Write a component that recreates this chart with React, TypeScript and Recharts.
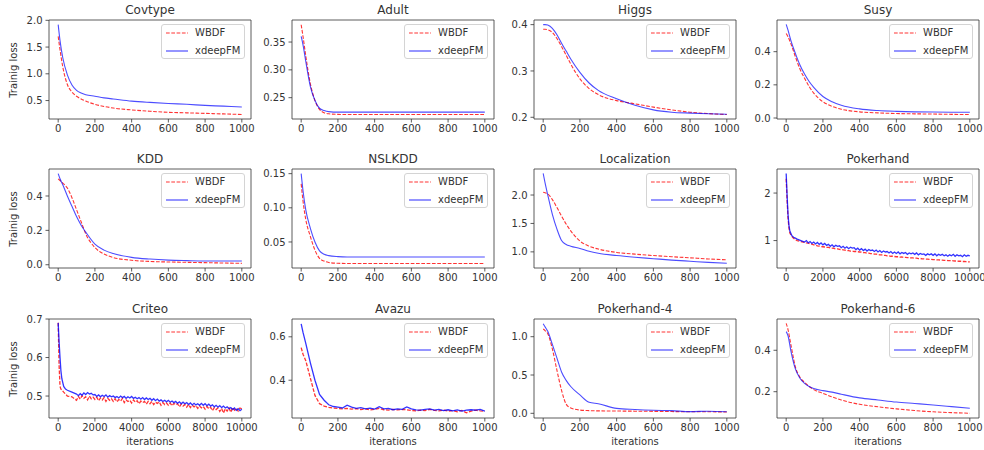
import React from "react";
import { LineChart, Line, XAxis, YAxis, ReferenceArea, Legend } from "recharts";

const FONT = "'DejaVu Sans', Verdana, sans-serif";
const TEXT = "#333";

// iteration grid shared by the smooth 0..1000 panels
const iterX = [0, 10, 25, 50, 75, 100, 125, 150, 200, 250, 300, 400, 500, 600, 700, 800, 900, 1000];
const ticks1k = [0, 200, 400, 600, 800, 1000];
const ticks10k = [0, 2000, 4000, 6000, 8000, 10000];

// Covtype
const covWBDF = [1.7, 1.45, 1.13, 0.8, 0.66, 0.58, 0.53, 0.49, 0.43, 0.39, 0.36, 0.325, 0.3, 0.28, 0.27, 0.26, 0.25, 0.24];
const covXdeep = [1.92, 1.62, 1.3, 0.98, 0.79, 0.69, 0.64, 0.61, 0.58, 0.55, 0.53, 0.49, 0.465, 0.445, 0.43, 0.41, 0.395, 0.38];

// Adult
const adultWBDF = [0.381, 0.36, 0.325, 0.275, 0.245, 0.229, 0.223, 0.221, 0.22, 0.2198, 0.2198, 0.2198, 0.2198, 0.2198, 0.2198, 0.2198, 0.2198, 0.2198];
const adultXdeep = [0.36, 0.345, 0.315, 0.27, 0.245, 0.231, 0.227, 0.225, 0.224, 0.224, 0.224, 0.224, 0.224, 0.224, 0.224, 0.224, 0.224, 0.224];

// Higgs
const higgsWBDF = [0.39, 0.39, 0.389, 0.383, 0.37, 0.353, 0.334, 0.315, 0.283, 0.262, 0.249, 0.236, 0.229, 0.222, 0.216, 0.211, 0.208, 0.206];
const higgsXdeep = [0.4, 0.4, 0.399, 0.392, 0.378, 0.36, 0.343, 0.326, 0.297, 0.274, 0.258, 0.24, 0.226, 0.216, 0.211, 0.209, 0.2075, 0.2065];

// Susy
const susyWBDF = [0.51, 0.49, 0.45, 0.37, 0.295, 0.24, 0.19, 0.15, 0.098, 0.07, 0.053, 0.037, 0.031, 0.027, 0.025, 0.024, 0.022, 0.021];
const susyXdeep = [0.565, 0.53, 0.47, 0.39, 0.32, 0.265, 0.22, 0.185, 0.13, 0.098, 0.077, 0.055, 0.045, 0.04, 0.037, 0.036, 0.035, 0.035];

// KDD
const kddWBDF = [0.5, 0.49, 0.475, 0.446, 0.39, 0.32, 0.25, 0.18, 0.1, 0.062, 0.042, 0.026, 0.019, 0.016, 0.014, 0.012, 0.01, 0.008];
const kddXdeep = [0.53, 0.5, 0.465, 0.4, 0.34, 0.28, 0.23, 0.19, 0.12, 0.085, 0.065, 0.043, 0.033, 0.027, 0.024, 0.022, 0.022, 0.022];

// NSLKDD
const nslWBDF = [0.135, 0.11, 0.083, 0.058, 0.038, 0.026, 0.022, 0.02, 0.0188, 0.0185, 0.0185, 0.0185, 0.0185, 0.0185, 0.0185, 0.0185, 0.0185, 0.0185];
const nslXdeep = [0.15, 0.125, 0.097, 0.07, 0.05, 0.037, 0.032, 0.03, 0.0285, 0.028, 0.028, 0.028, 0.028, 0.028, 0.028, 0.028, 0.028, 0.028];

// Localization
const locWBDF = [2.05, 2.04, 2.02, 1.92, 1.78, 1.63, 1.49, 1.37, 1.19, 1.1, 1.05, 0.99, 0.96, 0.935, 0.915, 0.895, 0.875, 0.86];
const locXdeep = [2.38, 2.22, 2.0, 1.66, 1.4, 1.2, 1.13, 1.1, 1.06, 1.01, 0.975, 0.935, 0.905, 0.88, 0.855, 0.835, 0.815, 0.8];

// Pokerhand
const pokX = [
  0, 50, 100, 150, 200, 300, 400, 500, 600, 800,
  1000, 1100, 1200, 1300, 1400, 1500, 1600, 1700, 1800, 1900,
  2000, 2100, 2200, 2300, 2400, 2500, 2600, 2700, 2800, 2900,
  3000, 3100, 3200, 3300, 3400, 3500, 3600, 3700, 3800, 3900,
  4000, 4100, 4200, 4300, 4400, 4500, 4600, 4700, 4800, 4900,
  5000, 5100, 5200, 5300, 5400, 5500, 5600, 5700, 5800, 5900,
  6000, 6100, 6200, 6300, 6400, 6500, 6600, 6700, 6800, 6900,
  7000, 7100, 7200, 7300, 7400, 7500, 7600, 7700, 7800, 7900,
  8000, 8100, 8200, 8300, 8400, 8500, 8600, 8700, 8800, 8900,
  9000, 9100, 9200, 9300, 9400, 9500, 9600, 9700, 9800, 9900,
  10000,
];
const pokWBDF = [
  2.3, 1.85, 1.48, 1.27, 1.16, 1.09, 1.05, 1.02, 1.0, 0.98,
  0.96, 0.95, 0.945, 0.93, 0.925, 0.91, 0.905, 0.89, 0.885, 0.875,
  0.87, 0.865, 0.855, 0.855, 0.845, 0.84, 0.835, 0.825, 0.825, 0.815,
  0.81, 0.805, 0.8, 0.79, 0.79, 0.78, 0.78, 0.77, 0.77, 0.765,
  0.76, 0.755, 0.745, 0.745, 0.735, 0.735, 0.725, 0.725, 0.715, 0.715,
  0.71, 0.7, 0.7, 0.69, 0.69, 0.68, 0.68, 0.67, 0.67, 0.665,
  0.66, 0.66, 0.65, 0.655, 0.645, 0.645, 0.64, 0.64, 0.635, 0.635,
  0.63, 0.63, 0.62, 0.625, 0.615, 0.615, 0.61, 0.61, 0.605, 0.605,
  0.6, 0.6, 0.595, 0.595, 0.59, 0.59, 0.585, 0.585, 0.58, 0.58,
  0.58, 0.575, 0.57, 0.57, 0.565, 0.565, 0.56, 0.56, 0.555, 0.55,
  0.55,
];
const pokXdeep = [
  2.41, 1.95, 1.55, 1.32, 1.2, 1.11, 1.07, 1.05, 1.03, 1.0,
  0.97, 1.0, 0.95, 0.98, 0.94, 0.97, 0.93, 0.96, 0.92, 0.95,
  0.91, 0.94, 0.9, 0.92, 0.88, 0.91, 0.87, 0.9, 0.88, 0.89,
  0.85, 0.88, 0.84, 0.87, 0.83, 0.86, 0.84, 0.85, 0.81, 0.84,
  0.8, 0.83, 0.79, 0.82, 0.78, 0.81, 0.79, 0.8, 0.77, 0.8,
  0.76, 0.79, 0.75, 0.78, 0.76, 0.77, 0.74, 0.77, 0.73, 0.76,
  0.73, 0.76, 0.72, 0.75, 0.73, 0.75, 0.71, 0.74, 0.72, 0.74,
  0.71, 0.74, 0.7, 0.73, 0.71, 0.72, 0.69, 0.72, 0.7, 0.72,
  0.69, 0.72, 0.68, 0.71, 0.69, 0.71, 0.68, 0.7, 0.67, 0.7,
  0.68, 0.71, 0.67, 0.7, 0.68, 0.69, 0.66, 0.7, 0.67, 0.69,
  0.68,
];

// Criteo
const critX = [
  0, 50, 100, 150, 200, 300, 400, 500, 750,
  1000, 1100, 1200, 1300, 1400, 1500, 1600, 1700, 1800, 1900,
  2000, 2100, 2200, 2300, 2400, 2500, 2600, 2700, 2800, 2900,
  3000, 3100, 3200, 3300, 3400, 3500, 3600, 3700, 3800, 3900,
  4000, 4100, 4200, 4300, 4400, 4500, 4600, 4700, 4800, 4900,
  5000, 5100, 5200, 5300, 5400, 5500, 5600, 5700, 5800, 5900,
  6000, 6100, 6200, 6300, 6400, 6500, 6600, 6700, 6800, 6900,
  7000, 7100, 7200, 7300, 7400, 7500, 7600, 7700, 7800, 7900,
  8000, 8100, 8200, 8300, 8400, 8500, 8600, 8700, 8800, 8900,
  9000, 9100, 9200, 9300, 9400, 9500, 9600, 9700, 9800, 9900,
  10000,
];
const critWBDF = [
  0.69, 0.58, 0.525, 0.518, 0.516, 0.51, 0.505, 0.5, 0.498,
  0.489, 0.499, 0.492, 0.501, 0.494, 0.498, 0.49, 0.5, 0.493, 0.497,
  0.491, 0.497, 0.488, 0.495, 0.49, 0.496, 0.486, 0.494, 0.489, 0.493,
  0.486, 0.493, 0.485, 0.491, 0.487, 0.494, 0.483, 0.49, 0.486, 0.489,
  0.482, 0.49, 0.484, 0.488, 0.48, 0.487, 0.483, 0.486, 0.479, 0.486,
  0.48, 0.486, 0.478, 0.484, 0.481, 0.485, 0.476, 0.483, 0.478, 0.482,
  0.476, 0.482, 0.475, 0.481, 0.477, 0.48, 0.472, 0.479, 0.474, 0.478,
  0.471, 0.478, 0.47, 0.476, 0.472, 0.475, 0.468, 0.474, 0.469, 0.473,
  0.466, 0.473, 0.467, 0.471, 0.462, 0.47, 0.465, 0.469, 0.46, 0.468,
  0.456, 0.467, 0.461, 0.469, 0.458, 0.47, 0.463, 0.468, 0.461, 0.469,
  0.467,
];
const critXdeep = [
  0.69, 0.64, 0.6, 0.565, 0.545, 0.525, 0.518, 0.515, 0.51,
  0.505, 0.501, 0.506, 0.502, 0.508, 0.504, 0.509, 0.505, 0.507, 0.503,
  0.504, 0.499, 0.503, 0.498, 0.502, 0.499, 0.503, 0.497, 0.501, 0.498,
  0.5, 0.496, 0.499, 0.495, 0.5, 0.496, 0.499, 0.494, 0.498, 0.495,
  0.499, 0.494, 0.497, 0.493, 0.496, 0.492, 0.496, 0.491, 0.495, 0.491,
  0.494, 0.489, 0.493, 0.488, 0.492, 0.487, 0.49, 0.486, 0.489, 0.485,
  0.489, 0.484, 0.487, 0.483, 0.486, 0.481, 0.485, 0.48, 0.484, 0.48,
  0.483, 0.478, 0.482, 0.477, 0.481, 0.477, 0.48, 0.476, 0.481, 0.476,
  0.48, 0.475, 0.479, 0.474, 0.477, 0.472, 0.476, 0.471, 0.475, 0.47,
  0.474, 0.469, 0.472, 0.467, 0.47, 0.465, 0.469, 0.463, 0.467, 0.462,
  0.466,
];

// Avazu
const avaX = [
  0, 10, 25, 50, 75, 100, 125, 150, 175, 200,
  225, 250, 275, 300, 325, 350, 375, 400, 425, 450, 475, 500,
  525, 550, 575, 600, 625, 650, 675, 700, 725, 750,
  775, 800, 825, 850, 875, 900, 925, 950, 975, 1000,
];
const avaWBDF = [
  0.55, 0.52, 0.49, 0.41, 0.33, 0.292, 0.281, 0.275, 0.272, 0.27,
  0.268, 0.27, 0.267, 0.269, 0.265, 0.268, 0.263, 0.266, 0.27, 0.264, 0.262, 0.266,
  0.263, 0.265, 0.264, 0.261, 0.259, 0.262, 0.26, 0.266, 0.261, 0.259,
  0.262, 0.258, 0.26, 0.255, 0.261, 0.25, 0.258, 0.262, 0.259, 0.257,
];
const avaXdeep = [
  0.66, 0.62, 0.57, 0.48, 0.4, 0.335, 0.308, 0.287, 0.279, 0.276,
  0.272, 0.285, 0.276, 0.27, 0.274, 0.268, 0.271, 0.267, 0.278, 0.268, 0.27, 0.264,
  0.268, 0.266, 0.277, 0.268, 0.263, 0.262, 0.266, 0.268, 0.262, 0.266,
  0.26, 0.264, 0.259, 0.263, 0.258, 0.262, 0.264, 0.262, 0.266, 0.258,
];

// Pokerhand-4
const p4WBDF = [1.1, 1.08, 1.04, 0.84, 0.56, 0.3, 0.12, 0.07, 0.043, 0.035, 0.032, 0.03, 0.028, 0.026, 0.023, 0.02, 0.02, 0.018];
const p4Xdeep = [1.17, 1.13, 1.07, 0.9, 0.72, 0.54, 0.43, 0.35, 0.24, 0.145, 0.125, 0.065, 0.05, 0.04, 0.035, 0.022, 0.028, 0.02];

// Pokerhand-6
const p6WBDF = [0.53, 0.5, 0.43, 0.32, 0.27, 0.245, 0.225, 0.21, 0.192, 0.175, 0.16, 0.139, 0.127, 0.117, 0.109, 0.103, 0.099, 0.096];
const p6Xdeep = [0.49, 0.47, 0.4, 0.31, 0.265, 0.24, 0.225, 0.215, 0.205, 0.198, 0.188, 0.17, 0.16, 0.15, 0.143, 0.136, 0.128, 0.12];

type PanelDef = {
  title: string;
  x: number[];
  wbdf: number[];
  xdeep: number[];
  xDomain: [number, number];
  xTicks: number[];
  yDomain: [number, number];
  yTicks: number[];
  digits: number;
  curve: "monotone" | "linear";
};

const D1K: [number, number] = [-50, 1050];
const D10K: [number, number] = [-500, 10500];

const panels: PanelDef[] = [
  { title: "Covtype", x: iterX, wbdf: covWBDF, xdeep: covXdeep, xDomain: D1K, xTicks: ticks1k, yDomain: [0.155, 2.006], yTicks: [0.5, 1.0, 1.5, 2.0], digits: 1, curve: "monotone" },
  { title: "Adult", x: iterX, wbdf: adultWBDF, xdeep: adultXdeep, xDomain: D1K, xTicks: ticks1k, yDomain: [0.2117, 0.3896], yTicks: [0.25, 0.3, 0.35], digits: 2, curve: "monotone" },
  { title: "Higgs", x: iterX, wbdf: higgsWBDF, xdeep: higgsXdeep, xDomain: D1K, xTicks: ticks1k, yDomain: [0.1963, 0.41], yTicks: [0.2, 0.3, 0.4], digits: 1, curve: "monotone" },
  { title: "Susy", x: iterX, wbdf: susyWBDF, xdeep: susyXdeep, xDomain: D1K, xTicks: ticks1k, yDomain: [-0.006, 0.591], yTicks: [0, 0.2, 0.4], digits: 1, curve: "monotone" },
  { title: "KDD", x: iterX, wbdf: kddWBDF, xdeep: kddXdeep, xDomain: D1K, xTicks: ticks1k, yDomain: [-0.019, 0.557], yTicks: [0, 0.2, 0.4], digits: 1, curve: "monotone" },
  { title: "NSLKDD", x: iterX, wbdf: nslWBDF, xdeep: nslXdeep, xDomain: D1K, xTicks: ticks1k, yDomain: [0.0119, 0.1568], yTicks: [0.05, 0.1, 0.15], digits: 2, curve: "monotone" },
  { title: "Localization", x: iterX, wbdf: locWBDF, xdeep: locXdeep, xDomain: D1K, xTicks: ticks1k, yDomain: [0.716, 2.458], yTicks: [1.0, 1.5, 2.0], digits: 1, curve: "monotone" },
  { title: "Pokerhand", x: pokX, wbdf: pokWBDF, xdeep: pokXdeep, xDomain: D10K, xTicks: ticks10k, yDomain: [0.423, 2.506], yTicks: [1, 2], digits: 0, curve: "linear" },
  { title: "Criteo", x: critX, wbdf: critWBDF, xdeep: critXdeep, xDomain: D10K, xTicks: ticks10k, yDomain: [0.443, 0.7], yTicks: [0.5, 0.6, 0.7], digits: 1, curve: "linear" },
  { title: "Avazu", x: avaX, wbdf: avaWBDF, xdeep: avaXdeep, xDomain: D1K, xTicks: ticks1k, yDomain: [0.226, 0.682], yTicks: [0.4, 0.6], digits: 1, curve: "linear" },
  { title: "Pokerhand-4", x: iterX, wbdf: p4WBDF, xdeep: p4Xdeep, xDomain: D1K, xTicks: ticks1k, yDomain: [-0.061, 1.231], yTicks: [0, 0.5, 1.0], digits: 1, curve: "monotone" },
  { title: "Pokerhand-6", x: iterX, wbdf: p6WBDF, xdeep: p6Xdeep, xDomain: D1K, xTicks: ticks1k, yDomain: [0.073, 0.551], yTicks: [0.2, 0.4], digits: 1, curve: "monotone" },
];

const SERIES = [
  { key: "wbdf", name: "WBDF", color: "#ff0000", opacity: 0.8, dash: "3.7 1.6" },
  { key: "xdeep", name: "xdeepFM", color: "#0000ff", opacity: 0.7, dash: undefined as string | undefined },
];

// plot box geometry (pixels on the page)
const COL_LEFT = [49, 292, 534, 777];
const ROW_TOP = [20, 169, 319];
const PLOT_W = 202;
const PLOT_H = 99;
const AXIS_W = 50; // y axis band
const AXIS_H = 34; // x axis band
const MT = 20;
const MR = 10;

const tickStyle = { fontSize: 10, fill: TEXT, fontFamily: FONT };

function LegendBox() {
  return (
    <div
      style={{
        width: 84,
        boxSizing: "border-box",
        border: "1px solid #d4d4d4",
        borderRadius: 3,
        background: "rgba(255,255,255,0.8)",
        padding: "1px 4px",
        fontFamily: FONT,
        fontSize: 10,
        color: TEXT,
      }}
    >
      {SERIES.map((s, i) => (
        <div key={s.key} style={{ display: "flex", alignItems: "center", height: 13, marginTop: i ? 5 : 0 }}>
          <svg width={22} height={4} style={{ marginRight: 7, flex: "none" }}>
            <line x1={0} y1={2} x2={22} y2={2} stroke={s.color} strokeOpacity={s.opacity} strokeWidth={1.2} strokeDasharray={s.dash} />
          </svg>
          <span style={{ lineHeight: "13px", whiteSpace: "nowrap" }}>{s.name}</span>
        </div>
      ))}
    </div>
  );
}

function Panel({ p, row, col }: { p: PanelDef; row: number; col: number }) {
  const left = COL_LEFT[col];
  const top = ROW_TOP[row];
  const data = p.x.map((x, i) => ({ x, wbdf: p.wbdf[i], xdeep: p.xdeep[i] }));
  const chartW = AXIS_W + PLOT_W + MR;
  const chartH = MT + PLOT_H + AXIS_H;
  const noisy = p.curve === "linear";
  return (
    <>
      <div
        style={{
          position: "absolute",
          left,
          top: top - 20,
          width: PLOT_W,
          height: 20,
          lineHeight: "20px",
          textAlign: "center",
          fontSize: 12,
          color: TEXT,
          fontFamily: FONT,
        }}
      >
        {p.title}
      </div>
      {col === 0 && (
        <div
          style={{
            position: "absolute",
            left: 14 - 50,
            top: top + PLOT_H / 2 - 6,
            width: 100,
            height: 12,
            lineHeight: "12px",
            textAlign: "center",
            fontSize: 10,
            color: TEXT,
            fontFamily: FONT,
            transform: "rotate(-90deg)",
          }}
        >
          Trainig loss
        </div>
      )}
      {row === 2 && (
        <div
          style={{
            position: "absolute",
            left,
            top: 435,
            width: PLOT_W,
            lineHeight: "14px",
            textAlign: "center",
            fontSize: 10,
            color: TEXT,
            fontFamily: FONT,
          }}
        >
          iterations
        </div>
      )}
      <div style={{ position: "absolute", left: left - AXIS_W, top: top - MT, fontFamily: FONT }}>
        <LineChart width={chartW} height={chartH} data={data} margin={{ top: MT, right: MR, bottom: 0, left: 0 }}>
          <XAxis
            dataKey="x"
            type="number"
            domain={p.xDomain}
            ticks={p.xTicks}
            interval={0}
            allowDataOverflow
            height={AXIS_H}
            axisLine={false}
            tickSize={3.5}
            tickMargin={2}
            tickLine={{ stroke: "#333", strokeWidth: 0.8 }}
            tick={tickStyle}
          />
          <YAxis
            type="number"
            domain={p.yDomain}
            ticks={p.yTicks}
            interval={0}
            allowDataOverflow
            width={AXIS_W}
            axisLine={false}
            tickSize={3.5}
            tickMargin={3}
            tickLine={{ stroke: "#333", strokeWidth: 0.8 }}
            tick={tickStyle}
            tickFormatter={(v: number) => v.toFixed(p.digits)}
          />
          {SERIES.map((s) => (
            <Line
              key={s.key}
              dataKey={s.key}
              name={s.name}
              type={p.curve}
              stroke={s.color}
              strokeOpacity={noisy && s.key === "xdeep" ? 0.8 : s.opacity}
              strokeWidth={noisy ? 1.3 : 1.1}
              strokeDasharray={s.dash}
              dot={false}
              activeDot={false}
              isAnimationActive={false}
            />
          ))}
          <ReferenceArea
            x1={p.xDomain[0]}
            x2={p.xDomain[1]}
            y1={p.yDomain[0]}
            y2={p.yDomain[1]}
            fill="none"
            stroke="#333"
            strokeWidth={0.8}
          />
          <Legend
            layout="vertical"
            align="center"
            verticalAlign="middle"
            content={() => <LegendBox />}
            wrapperStyle={{ left: AXIS_W + PLOT_W - 6 - 84, top: MT + 4, width: 84, height: 35 }}
          />
        </LineChart>
      </div>
    </>
  );
}

export default function App() {
  return (
    <div style={{ position: "absolute", left: 0, top: 0, width: 984, height: 450, background: "#fff" }}>
      {panels.map((p, i) => (
        <Panel key={p.title} p={p} row={Math.floor(i / 4)} col={i % 4} />
      ))}
    </div>
  );
}
